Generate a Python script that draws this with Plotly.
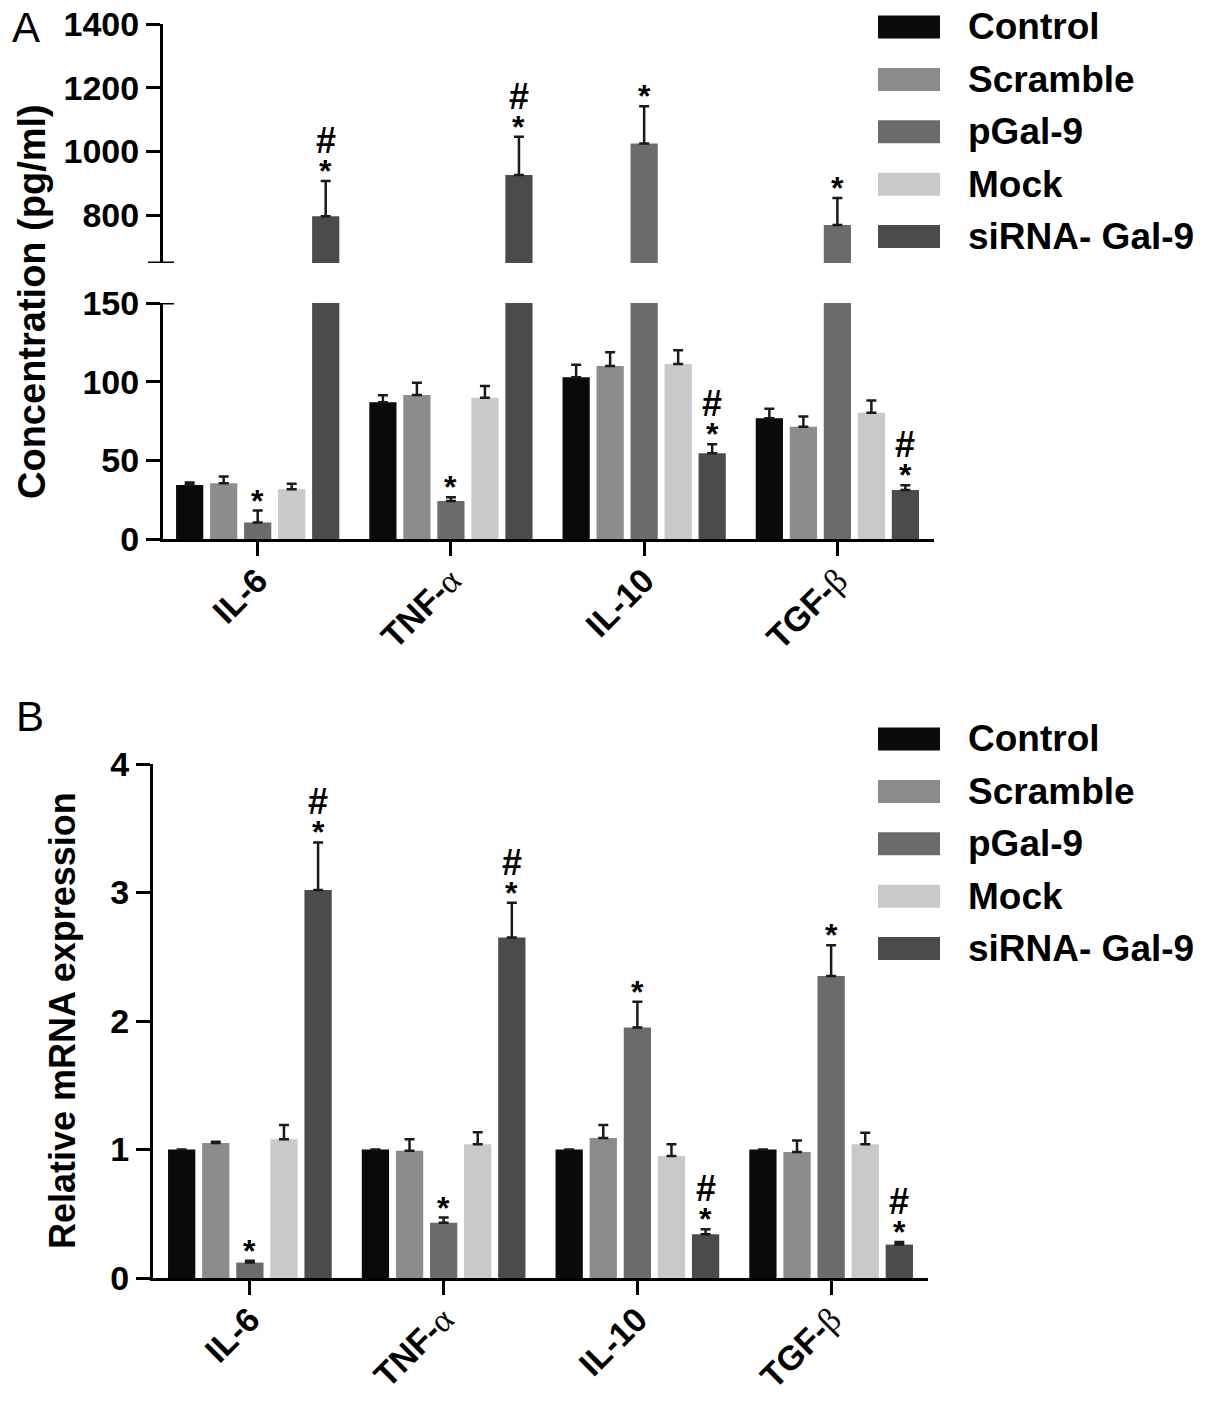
import plotly.graph_objects as go

# ---- data ----
categories = ['IL-6', 'TNF-α', 'IL-10', 'TGF-β']
groups = ['Control', 'Scramble', 'pGal-9', 'Mock', 'siRNA- Gal-9']
colors = ['#0a0a0a', '#8c8c8c', '#6b6b6b', '#c9c9c9', '#4b4b4b']

# panel A: concentration (pg/ml), mean and SD (upper bar only)
control_a = [34.4, 86.9, 102.8, 76.8]
scramble_a = [35.5, 91.5, 110.0, 71.4]
pgal_a = [10.5, 24.1, 1025, 769]
mock_a = [31.7, 89.8, 111.3, 80.3]
sirna_a = [797, 926, 54.5, 31.2]
control_a_err = [1.5, 4.4, 8.0, 6.0]
scramble_a_err = [4.2, 7.8, 8.7, 6.4]
pgal_a_err = [7.6, 2.5, 117, 85]
mock_a_err = [3.4, 7.4, 8.7, 7.7]
sirna_a_err = [110, 120, 5.7, 3.0]

# panel B: relative mRNA expression
control_b = [1.0, 1.0, 1.0, 1.0]
scramble_b = [1.05, 0.99, 1.09, 0.98]
pgal_b = [0.12, 0.43, 1.95, 2.35]
mock_b = [1.08, 1.04, 0.95, 1.04]
sirna_b = [3.02, 2.65, 0.34, 0.26]
control_b_err = [0, 0, 0, 0]
scramble_b_err = [0.01, 0.09, 0.10, 0.09]
pgal_b_err = [0.015, 0.04, 0.20, 0.24]
mock_b_err = [0.11, 0.095, 0.09, 0.09]
sirna_b_err = [0.37, 0.27, 0.04, 0.02]

# significance marks per group (same for both panels)
sig_marks = ['', '', '*', '', '#*']

lower_range = [0, 150]
upper_range = [650, 1400]

vals_a = [control_a, scramble_a, pgal_a, mock_a, sirna_a]
errs_a = [control_a_err, scramble_a_err, pgal_a_err, mock_a_err, sirna_a_err]
vals_b = [control_b, scramble_b, pgal_b, mock_b, sirna_b]
errs_b = [control_b_err, scramble_b_err, pgal_b_err, mock_b_err, sirna_b_err]

W, H = 1205, 1403
FONT = 'Liberation Sans, Arial, sans-serif'
BARGAP = 0.12
BARGROUPGAP = 0.2


def py(p):
    return 1 - p / H


def tick_label(name):
    # greek letters drawn in a thin serif face like the original
    for g in ['α', 'β']:
        name = name.replace(g, "<span style='font-family:Liberation Serif;font-weight:normal'>%s</span>" % g)
    return name


def err_bar(arr):
    return dict(type='data', symmetric=False, array=arr, arrayminus=[0] * len(arr),
                color='#1a1a1a', thickness=2.5, width=5)


fig = go.Figure()

# panel A lower segment (x / y) and upper segment (x / y2)
for name, col, v, e in zip(groups, colors, vals_a, errs_a):
    e_low = [ei if vi + ei <= lower_range[1] else 0 for vi, ei in zip(v, e)]
    e_up = [ei if vi > upper_range[0] else 0 for vi, ei in zip(v, e)]
    fig.add_trace(go.Bar(x=categories, y=v, name=name, marker_color=col, marker_line_width=0,
                         error_y=err_bar(e_low), xaxis='x', yaxis='y', showlegend=False))
    fig.add_trace(go.Bar(x=categories, y=v, name=name, marker_color=col, marker_line_width=0,
                         error_y=err_bar(e_up), xaxis='x', yaxis='y2', showlegend=False))

# panel B (x2 / y3)
for name, col, v, e in zip(groups, colors, vals_b, errs_b):
    fig.add_trace(go.Bar(x=categories, y=v, name=name, marker_color=col, marker_line_width=0,
                         error_y=err_bar(e), xaxis='x2', yaxis='y3', showlegend=False))

axis_common = dict(showline=True, linecolor='black', linewidth=3, showgrid=False, zeroline=False,
                   automargin=False, ticks='outside', tickwidth=3, tickcolor='black', ticklen=14,
                   tickfont=dict(family=FONT, size=34, color='black', weight='bold'))

xa = dict(axis_common, type='category', tickvals=categories,
          ticktext=[tick_label(c) for c in categories], tickangle=-45, ticklabelstandoff=-9)

fig.update_layout(
    width=W, height=H, margin=dict(l=0, r=0, t=0, b=0, autoexpand=False),
    plot_bgcolor='white', paper_bgcolor='white',
    barmode='group', bargap=BARGAP, bargroupgap=BARGROUPGAP,
    font=dict(family=FONT, color='black'),
    xaxis=dict(xa, domain=[163 / W, 934 / W], anchor='y', range=[-0.49, 3.5]),
    yaxis=dict(axis_common, domain=[py(539), py(303)], anchor='x', range=lower_range,
               tickvals=[0, 50, 100, 150]),
    yaxis2=dict(axis_common, domain=[py(263), py(24)], anchor='x', range=upper_range,
                tickvals=[800, 1000, 1200, 1400]),
    xaxis2=dict(xa, domain=[153 / W, 928 / W], anchor='y3', range=[-0.5, 3.5]),
    yaxis3=dict(axis_common, domain=[py(1278), py(764)], anchor='x2', range=[0, 4],
                tickvals=[0, 1, 2, 3, 4]),
)

# break caps on the split axis of panel A
fig.add_shape(type='line', xref='paper', yref='y2', x0=148 / W, x1=174 / W,
              y0=upper_range[0], y1=upper_range[0], line=dict(color='black', width=3))
fig.add_shape(type='line', xref='paper', yref='y', x0=148 / W, x1=174 / W,
              y0=lower_range[1], y1=lower_range[1], line=dict(color='black', width=3))

# significance marks above the error bars
slot = (1 - BARGAP) / len(groups)
ann = []


def add_marks(vals, errs, xref, yref_fn):
    for k, (v, e) in enumerate(zip(vals, errs)):
        mark = sig_marks[k]
        if not mark:
            continue
        for i in range(len(categories)):
            xpos = i + (k - (len(groups) - 1) / 2) * slot
            top = v[i] + e[i]
            yref = yref_fn(v[i])
            ann.append(dict(x=xpos, y=top, xref=xref, yref=yref, text='*', showarrow=False,
                            yanchor='bottom', yshift=-10,
                            font=dict(family=FONT, size=32, color='black', weight='bold')))
            if '#' in mark:
                ann.append(dict(x=xpos, y=top, xref=xref, yref=yref, text='#', showarrow=False,
                                yanchor='bottom', yshift=18,
                                font=dict(family=FONT, size=36, color='black', weight='bold')))


add_marks(vals_a, errs_a, 'x', lambda v: 'y2' if v > upper_range[0] else 'y')
add_marks(vals_b, errs_b, 'x2', lambda v: 'y3')

# axis titles and panel letters
ann.append(dict(x=32 / W, y=py(302), xref='paper', yref='paper', text='Concentration (pg/ml)',
                textangle=-90, showarrow=False, xanchor='center', yanchor='middle',
                font=dict(size=38, weight='bold')))
ann.append(dict(x=62 / W, y=py(1021), xref='paper', yref='paper', text='Relative mRNA expression',
                textangle=-90, showarrow=False, xanchor='center', yanchor='middle',
                font=dict(size=36, weight='bold')))
ann.append(dict(x=10 / W, y=py(28), xref='paper', yref='paper', text='A', showarrow=False,
                xanchor='left', yanchor='middle', font=dict(size=42)))
ann.append(dict(x=14 / W, y=py(716), xref='paper', yref='paper', text='B', showarrow=False,
                xanchor='left', yanchor='middle', font=dict(size=42)))

# legends, drawn by hand for the wide GraphPad-style swatches
for top in [27, 739]:
    for k, (name, col) in enumerate(zip(groups, colors)):
        c = top + k * 52.4
        fig.add_shape(type='rect', xref='paper', yref='paper', x0=878 / W, x1=940 / W,
                      y0=py(c + 11.5), y1=py(c - 11.5), fillcolor=col, line_width=0)
        ann.append(dict(x=966 / W, y=py(c), xref='paper', yref='paper', text=name,
                        showarrow=False, xanchor='left', yanchor='middle',
                        font=dict(size=37, weight='bold')))

fig.update_layout(annotations=ann)

fig.write_html('out.html', post_script="document.body.style.margin='0';",
               config={'displayModeBar': False})
